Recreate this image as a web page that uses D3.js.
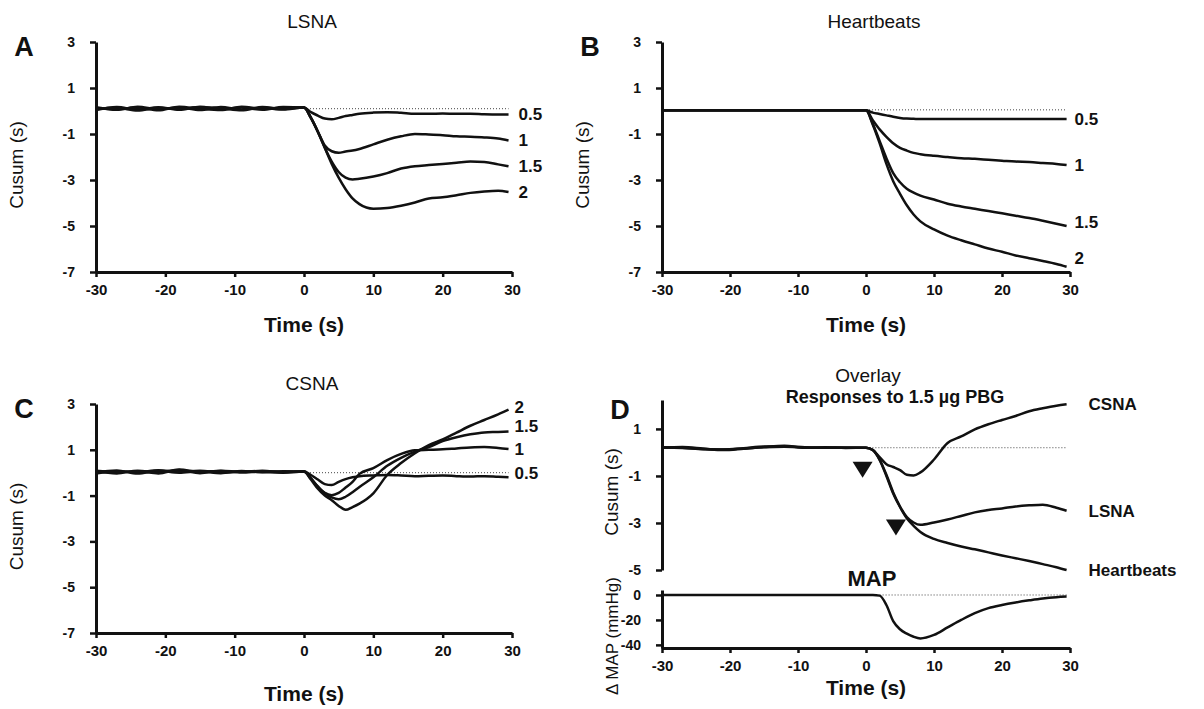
<!DOCTYPE html>
<html>
<head>
<meta charset="utf-8">
<script src="https://cdn.jsdelivr.net/npm/d3@7"></script>
<style>
body { margin: 0; background: #fff; }
svg { display: block; font-family: "Liberation Sans", Arial, sans-serif; }
</style>
</head>
<body>
<script>
// time points (s) shared by every trace
var times = [-30, -27, -24, -21, -18, -15, -12, -9, -6, -3, 0,
             1, 2, 3, 4, 5, 6, 7, 8, 10, 12, 14, 16, 18, 20, 22, 24, 26, 28, 29.5];

var doseLabels = ["0.5", "1", "1.5", "2"];
var xTicks = [-30, -20, -10, 0, 10, 20, 30];
var cusumTicks = [3, 1, -1, -3, -5, -7];
var overlayTicks = [1, -1, -3, -5];
var mapTicks = [0, -20, -40];

// A: LSNA cusum by dose
var lsna05 = [0.16, 0.05, 0.18, 0.08, 0.15, 0.04, 0.17, 0.07, 0.14, 0.06, 0.15,
              -0.05, -0.2, -0.33, -0.36, -0.3, -0.22, -0.17, -0.12, -0.07, -0.05, -0.08, -0.12, -0.12, -0.11, -0.12, -0.12, -0.14, -0.15, -0.15];
var lsna1 = [0.04, 0.17, 0.06, 0.16, 0.05, 0.18, 0.08, 0.15, 0.05, 0.17, 0.15,
             -0.3, -0.9, -1.5, -1.75, -1.82, -1.76, -1.72, -1.65, -1.45, -1.25, -1.1, -1.0, -1.02, -1.05, -1.1, -1.12, -1.15, -1.2, -1.28];
var lsna15 = [0.12, 0.09, 0.14, 0.03, 0.19, 0.10, 0.04, 0.18, 0.10, 0.12, 0.15,
              -0.3, -0.9, -1.6, -2.2, -2.65, -2.9, -2.98, -2.95, -2.85, -2.7, -2.5, -2.4, -2.35, -2.3, -2.25, -2.2, -2.22, -2.32, -2.4];
var lsna2 = [0.08, 0.14, 0.02, 0.13, 0.09, 0.16, 0.12, 0.03, 0.17, 0.09, 0.15,
             -0.3, -0.9, -1.6, -2.3, -2.9, -3.4, -3.8, -4.05, -4.25, -4.22, -4.12, -3.98, -3.8, -3.75, -3.66, -3.56, -3.5, -3.47, -3.52];

// B: heartbeats cusum by dose
var hb05 = [0.03, 0.03, 0.03, 0.03, 0.03, 0.03, 0.03, 0.03, 0.03, 0.03, 0.03,
            -0.07, -0.13, -0.19, -0.25, -0.3, -0.33, -0.34, -0.35, -0.35, -0.35, -0.35, -0.35, -0.35, -0.35, -0.35, -0.35, -0.35, -0.35, -0.35];
var hb1 = [0.03, 0.03, 0.03, 0.03, 0.03, 0.03, 0.03, 0.03, 0.03, 0.03, 0.03,
           -0.4, -0.8, -1.12, -1.4, -1.6, -1.72, -1.82, -1.88, -1.95, -2.0, -2.05, -2.08, -2.12, -2.16, -2.2, -2.22, -2.26, -2.3, -2.35];
var hb15 = [0.03, 0.03, 0.03, 0.03, 0.03, 0.03, 0.03, 0.03, 0.03, 0.03, 0.03,
            -0.55, -1.3, -2.05, -2.7, -3.1, -3.38, -3.55, -3.68, -3.85, -4.03, -4.15, -4.25, -4.35, -4.45, -4.55, -4.65, -4.77, -4.9, -5.0];
var hb2 = [0.03, 0.03, 0.03, 0.03, 0.03, 0.03, 0.03, 0.03, 0.03, 0.03, 0.03,
           -0.6, -1.4, -2.3, -3.05, -3.6, -4.1, -4.5, -4.8, -5.15, -5.42, -5.62, -5.8, -5.98, -6.12, -6.28, -6.4, -6.52, -6.65, -6.77];

// C: CSNA cusum by dose
var csna05 = [0.02, 0.10, -0.04, 0.08, 0.0, 0.06, -0.02, 0.05, 0.03, 0.0, 0.05,
              -0.1, -0.3, -0.5, -0.54, -0.4, -0.28, -0.2, -0.15, -0.12, -0.1, -0.12, -0.15, -0.13, -0.12, -0.15, -0.17, -0.15, -0.18, -0.2];
var csna1 = [0.06, -0.03, 0.09, 0.02, 0.12, -0.02, 0.07, 0.01, 0.06, 0.04, 0.05,
             -0.25, -0.6, -0.88, -0.98, -0.88, -0.65, -0.4, -0.05, 0.2, 0.55, 0.82, 0.98, 1.0, 1.02, 1.06, 1.1, 1.12, 1.08, 1.03];
var csna15 = [-0.04, 0.06, 0.02, 0.11, 0.04, 0.08, 0.0, 0.07, 0.02, 0.06, 0.05,
              -0.25, -0.62, -0.9, -1.08, -1.16, -1.05, -0.85, -0.62, -0.2, 0.3, 0.65, 0.92, 1.12, 1.38, 1.55, 1.68, 1.76, 1.78, 1.8];
var csna2 = [0.08, 0.02, 0.06, -0.03, 0.14, 0.03, 0.09, 0.04, 0.08, 0.02, 0.05,
             -0.3, -0.7, -1.0, -1.2, -1.45, -1.62, -1.5, -1.35, -0.9, -0.1, 0.42, 0.85, 1.2, 1.45, 1.75, 2.05, 2.3, 2.55, 2.75];

// D: overlay of responses to 1.5 ug PBG
var overlayNames = ["CSNA", "LSNA", "Heartbeats"];
var ovCsna = [0.22, 0.2, 0.14, 0.12, 0.18, 0.25, 0.26, 0.22, 0.2, 0.21, 0.2,
              0.1, -0.2, -0.5, -0.62, -0.75, -0.95, -0.98, -0.85, -0.3, 0.4, 0.68, 0.98, 1.2, 1.38, 1.55, 1.75, 1.88, 1.99, 2.05];
var ovLsna = [0.2, 0.23, 0.17, 0.1, 0.16, 0.23, 0.28, 0.2, 0.22, 0.19, 0.2,
              0.1, -0.3, -0.95, -1.7, -2.3, -2.75, -2.98, -3.08, -2.98, -2.85, -2.7, -2.55, -2.45, -2.38, -2.3, -2.25, -2.22, -2.35, -2.48];
var ovHb = [0.21, 0.19, 0.15, 0.13, 0.17, 0.22, 0.24, 0.21, 0.2, 0.2, 0.2,
            0.1, -0.32, -1.0, -1.75, -2.32, -2.8, -3.12, -3.38, -3.68, -3.85, -4.0, -4.12, -4.25, -4.38, -4.5, -4.62, -4.75, -4.88, -5.0];
var mapValues = [0, 0, 0, 0, 0, 0, 0, 0, 0, 0, 0,
                 0, -0.5, -8, -21, -27.5, -31, -33.5, -34.8, -32, -26, -20, -14.5, -10.5, -8, -6, -4.3, -2.8, -1.8, -1.3];
var arrowTimes = [-0.5, 4.4];
var arrowValues = [-0.4, -2.85];

var narrow = '"Liberation Sans Narrow", "Liberation Sans", Arial, sans-serif';

function pairs(vals) {
    return vals.map(function(v, i) { return {t: times[i], v: v}; });
}

function styleAxis(g, size) {
    g.select(".domain").attr("stroke", "#111").attr("stroke-width", 3);
    g.selectAll(".tick line").attr("stroke", "#111").attr("stroke-width", 2.5);
    g.selectAll(".tick text")
        .attr("fill", "#111")
        .attr("font-size", size)
        .attr("font-weight", "bold")
        .attr("font-family", narrow);
}

function xAxis(svg, x, y0) {
    var g = svg.append("g")
        .attr("transform", "translate(0," + y0 + ")")
        .call(d3.axisBottom(x).tickValues(xTicks).tickSize(5).tickSizeOuter(0).tickPadding(7)
            .tickFormat(function(d) { return String(d); }));
    styleAxis(g, 15);
}

function yAxis(svg, y, x0, ticks) {
    var g = svg.append("g")
        .attr("transform", "translate(" + x0 + ",0)")
        .call(d3.axisLeft(y).tickValues(ticks).tickSize(6).tickSizeOuter(0).tickPadding(15)
            .tickFormat(function(d) { return String(d); }));
    styleAxis(g, 14);
}

function text(svg, x, y, s, size, weight, anchor) {
    return svg.append("text")
        .attr("x", x)
        .attr("y", y)
        .attr("font-size", size)
        .attr("font-weight", weight)
        .attr("text-anchor", anchor || "middle")
        .attr("fill", "#111")
        .text(s);
}

function vText(svg, x, y, s, size) {
    svg.append("text")
        .attr("transform", "translate(" + x + "," + y + ") rotate(-90)")
        .attr("font-size", size)
        .attr("text-anchor", "middle")
        .attr("fill", "#111")
        .text(s);
}

function refLine(svg, x, y, v, t0) {
    svg.append("line")
        .attr("x1", x(t0))
        .attr("x2", x(29.5))
        .attr("y1", y(v))
        .attr("y2", y(v))
        .attr("stroke", "#444")
        .attr("stroke-width", 1)
        .attr("stroke-dasharray", "1,2");
}

function drawCusum(svg, p) {
    var x = d3.scaleLinear().domain([-30, 30]).range([p.left, p.right]);
    var y = d3.scaleLinear().domain([-7, 3]).range([p.bottom, p.top]);
    var line = d3.line()
        .x(function(d) { return x(d.t); })
        .y(function(d) { return y(d.v); })
        .curve(d3.curveMonotoneX);

    refLine(svg, x, y, p.ref, 0);

    svg.selectAll("path.s" + p.letter)
        .data(p.series)
        .enter()
        .append("path")
        .attr("class", "s" + p.letter)
        .attr("d", function(d) { return line(pairs(d)); })
        .attr("fill", "none")
        .attr("stroke", "#111")
        .attr("stroke-width", 2.5);

    svg.selectAll("text.l" + p.letter)
        .data(p.series)
        .enter()
        .append("text")
        .attr("class", "l" + p.letter)
        .attr("x", function(d) { return x(times[times.length - 1]) + p.labelPad; })
        .attr("y", function(d, i) { return y(d[d.length - 1]) + p.nudge[i] + 6; })
        .attr("font-size", 17)
        .attr("font-weight", "bold")
        .attr("fill", "#111")
        .text(function(d, i) { return doseLabels[i]; });

    xAxis(svg, x, p.bottom);
    yAxis(svg, y, p.left, cusumTicks);

    var cx = (p.left + p.right) / 2;
    text(svg, cx + 8, p.top - 14, p.title, 19, "normal");
    text(svg, cx, p.bottom + p.timeGap, "Time (s)", 21, "bold");
    text(svg, p.left - 72, p.top + 14, p.letter, 27, "bold");
    vText(svg, p.left - 73, (p.top + p.bottom) / 2 + 8, "Cusum (s)", 19);
}

function drawOverlay(svg) {
    var left = 662, right = 1070;
    var x = d3.scaleLinear().domain([-30, 30]).range([left, right]);
    var y = d3.scaleLinear().domain([-5, 2.23]).range([570, 400]);
    var ym = d3.scaleLinear().domain([-42.5, 4]).range([648, 590]);
    var line = d3.line()
        .x(function(d) { return x(d.t); })
        .y(function(d) { return y(d.v); })
        .curve(d3.curveMonotoneX);
    var mapLine = d3.line()
        .x(function(d) { return x(d.t); })
        .y(function(d) { return ym(d.v); })
        .curve(d3.curveMonotoneX);
    var series = [ovCsna, ovLsna, ovHb];

    refLine(svg, x, y, 0.2, 0.5);
    refLine(svg, x, ym, 0, 2);

    svg.selectAll("path.ov")
        .data(series)
        .enter()
        .append("path")
        .attr("class", "ov")
        .attr("d", function(d) { return line(pairs(d)); })
        .attr("fill", "none")
        .attr("stroke", "#111")
        .attr("stroke-width", 2.5);

    svg.append("path")
        .attr("d", mapLine(pairs(mapValues)))
        .attr("fill", "none")
        .attr("stroke", "#111")
        .attr("stroke-width", 2.5);

    svg.selectAll("text.ov")
        .data(series)
        .enter()
        .append("text")
        .attr("class", "ov")
        .attr("x", function(d) { return x(times[times.length - 1]) + 22; })
        .attr("y", function(d) { return y(d[d.length - 1]) + 6; })
        .attr("font-size", 17)
        .attr("font-weight", "bold")
        .attr("fill", "#111")
        .text(function(d, i) { return overlayNames[i]; });

    svg.selectAll("path.arrow")
        .data(arrowTimes)
        .enter()
        .append("path")
        .attr("class", "arrow")
        .attr("d", function(d, i) {
            var ax = x(d), ay = y(arrowValues[i]);
            return "M" + (ax - 10) + "," + ay + "L" + (ax + 10) + "," + ay + "L" + ax + "," + (ay + 16) + "Z";
        })
        .attr("fill", "#111");

    xAxis(svg, x, 648);
    yAxis(svg, y, left, overlayTicks);
    yAxis(svg, ym, left, mapTicks);

    text(svg, 868, 382, "Overlay", 19, "normal");
    text(svg, 895, 403, "Responses to 1.5 \u00b5g PBG", 18, "bold").attr("font-family", narrow);
    text(svg, 872, 586, "MAP", 22, "bold");
    text(svg, (left + right) / 2, 695, "Time (s)", 21, "bold");
    text(svg, 620, 419, "D", 27, "bold");
    vText(svg, 618, 492, "Cusum (s)", 19);
    vText(svg, 618, 636, "\u0394 MAP (mmHg)", 17);
}

function init() {
    var svg = d3.select("body")
        .append("svg")
        .attr("width", 1204)
        .attr("height", 709);

    drawCusum(svg, {letter: "A", title: "LSNA", left: 96, right: 512, top: 42, bottom: 272,
        series: [lsna05, lsna1, lsna15, lsna2], ref: 0.1, labelPad: 10, nudge: [0, 0, 0, 0], timeGap: 60});
    drawCusum(svg, {letter: "B", title: "Heartbeats", left: 662, right: 1070, top: 42, bottom: 272,
        series: [hb05, hb1, hb15, hb2], ref: 0.05, labelPad: 8, nudge: [0, 0, -4, -9], timeGap: 60});
    drawCusum(svg, {letter: "C", title: "CSNA", left: 96, right: 512, top: 404, bottom: 633,
        series: [csna05, csna1, csna15, csna2], ref: 0, labelPad: 6, nudge: [-4, 0, -5, -3], timeGap: 68});
    drawOverlay(svg);
}

window.onload = init;
</script>
</body>
</html>
